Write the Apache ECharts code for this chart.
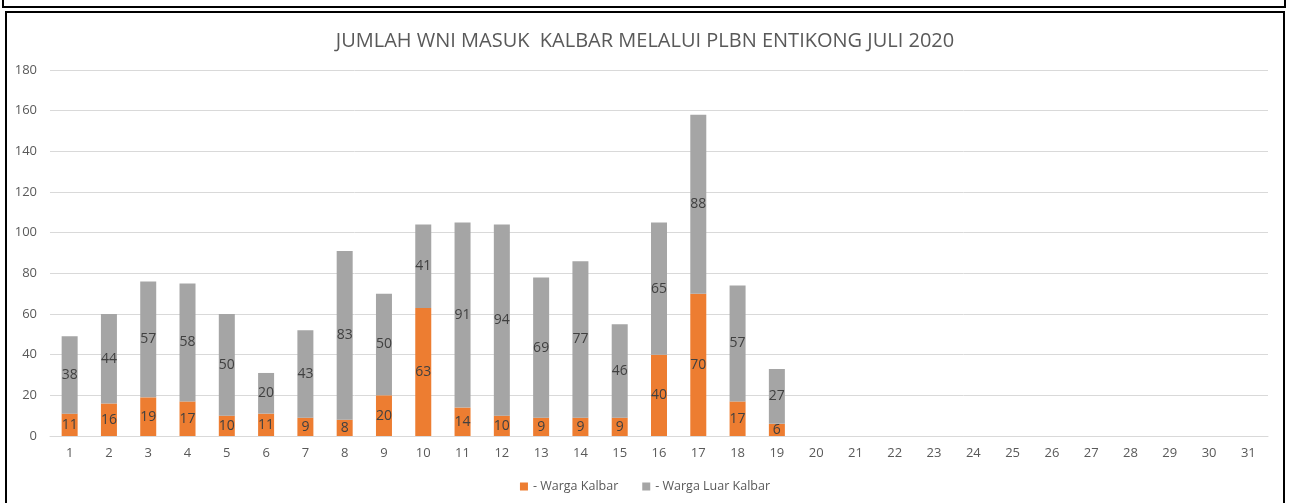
<!DOCTYPE html>
<html>
<head>
<meta charset="utf-8">
<script src="https://cdn.jsdelivr.net/npm/echarts@6/dist/echarts.min.js"></script>
<style>
  body { margin: 0; background: #fff; }
  #box1 { position: absolute; left: 2px; top: -3px; width: 1280px; height: 7px; border: 2px solid #000; }
  #box2 { position: absolute; left: 5px; top: 11px; width: 1276px; height: 500px; border: 2px solid #000; }
  #container { position: absolute; left: 0; top: 0; width: 1290px; height: 503px; }
</style>
</head>
<body>
<div id="box1"></div>
<div id="box2"></div>
<div id="container"></div>
<script>
var days = [];
for (var d = 1; d <= 31; d++) days.push(String(d));

var wargaKalbar = [11, 16, 19, 17, 10, 11, 9, 8, 20, 63, 14, 10, 9, 9, 9, 40, 70, 17, 6];
var wargaLuarKalbar = [38, 44, 57, 58, 50, 20, 43, 83, 50, 41, 91, 94, 69, 77, 46, 65, 88, 57, 27];

var dom = document.getElementById("container");
var myChart = echarts.init(dom);

var labelStyle = {
    show: true,
    position: 'inside',
    color: '#404040',
    fontSize: 14,
    fontFamily: 'Open Sans'
};

var option = {
    animation: false,
    title: {
        text: 'JUMLAH WNI MASUK  KALBAR MELALUI PLBN ENTIKONG JULI 2020',
        left: 'center',
        top: 26,
        textStyle: {
            color: '#595959',
            fontSize: 20,
            fontWeight: 'normal',
            fontFamily: 'Open Sans'
        }
    },
    legend: {
        bottom: 5,
        left: 'center',
        itemWidth: 8,
        itemHeight: 8,
        itemGap: 24,
        icon: 'rect',
        textStyle: { color: '#595959', fontSize: 12.5, fontFamily: 'Open Sans' },
        data: ['- Warga Kalbar', '- Warga Luar Kalbar']
    },
    grid: {
        left: 50,
        right: 22,
        top: 70,
        bottom: 67,
        containLabel: false
    },
    xAxis: {
        type: 'category',
        data: days,
        axisLine: { lineStyle: { color: '#d9d9d9' } },
        axisTick: { show: false },
        axisLabel: { color: '#595959', fontSize: 13, fontFamily: 'Open Sans', margin: 11 }
    },
    yAxis: {
        type: 'value',
        min: 0,
        max: 180,
        interval: 20,
        axisLine: { show: false },
        axisTick: { show: false },
        axisLabel: { color: '#595959', fontSize: 13, fontFamily: 'Open Sans', margin: 13 },
        splitLine: { lineStyle: { color: '#d9d9d9' } }
    },
    series: [{
        name: '- Warga Kalbar',
        type: 'bar',
        stack: 'total',
        barWidth: 16,
        itemStyle: { color: '#ed7d31' },
        label: labelStyle,
        data: wargaKalbar
    }, {
        name: '- Warga Luar Kalbar',
        type: 'bar',
        stack: 'total',
        barWidth: 16,
        itemStyle: { color: '#a5a5a5' },
        label: labelStyle,
        data: wargaLuarKalbar
    }]
};

myChart.setOption(option);
</script>
</body>
</html>
